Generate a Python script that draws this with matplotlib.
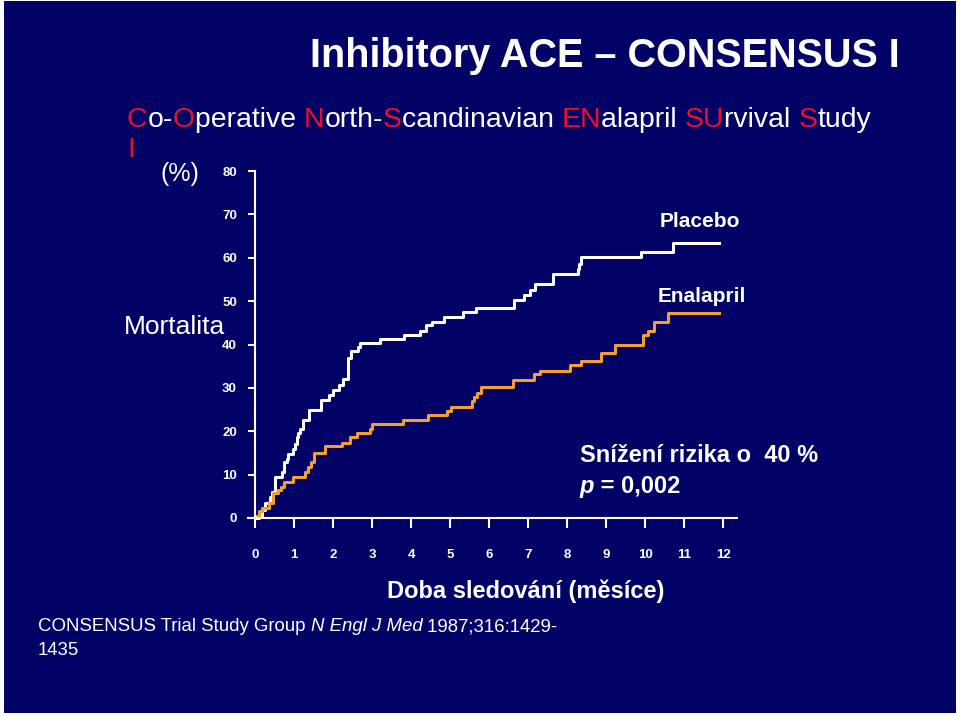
import matplotlib
matplotlib.use("Agg")
import matplotlib.pyplot as plt
from matplotlib.patches import Rectangle

NAVY = "#020266"
ORANGE = "#F2A02E"
RED = "#E8102D"

# step curves: (month, cumulative mortality %)
placebo_months = [0, 0.09, 0.17, 0.26, 0.38, 0.43, 0.51, 0.68, 0.75, 0.81,
                  0.85, 0.98, 1.03, 1.07, 1.11, 1.15, 1.22, 1.39, 1.70, 1.89,
                  2.00, 2.14, 2.25, 2.37, 2.39, 2.47, 2.63, 2.69, 3.19, 3.83,
                  4.24, 4.38, 4.53, 4.83, 5.32, 5.67, 6.64, 6.88, 7.04, 7.17,
                  7.64, 8.27, 8.30, 8.34, 9.89, 10.71, 11.88]
placebo_mort = [0, 0.5, 1.9, 3.4, 4.9, 6.1, 9.5, 10.6, 12.9, 13.6,
                14.8, 15.9, 17.0, 18.6, 19.7, 20.5, 22.7, 25.0, 27.3, 28.4,
                29.5, 30.6, 32.0, 34.7, 37.0, 38.4, 39.4, 40.4, 41.2, 42.1,
                43.2, 44.4, 45.1, 46.3, 47.4, 48.5, 50.2, 51.4, 52.6, 54.0,
                56.2, 57.3, 58.5, 60.2, 61.4, 63.3, 63.3]

enalapril_months = [0, 0.09, 0.17, 0.37, 0.47, 0.60, 0.66, 0.73, 0.98, 1.28,
                    1.37, 1.43, 1.50, 1.80, 2.22, 2.44, 2.61, 2.95, 2.99, 3.80,
                    4.44, 4.91, 5.01, 5.55, 5.60, 5.70, 5.80, 6.60, 7.14, 7.30,
                    8.06, 8.36, 8.87, 9.23, 9.93, 10.08, 10.22, 10.59, 11.90]
enalapril_mort = [0.5, 1.5, 2.3, 3.4, 5.7, 6.4, 7.2, 8.3, 9.5, 10.6,
                  11.7, 12.9, 14.9, 16.7, 17.4, 18.6, 19.5, 20.6, 21.6, 22.6,
                  23.7, 24.6, 25.7, 26.9, 27.9, 28.9, 30.2, 31.8, 33.2, 34.0,
                  35.2, 36.2, 38.1, 40.0, 42.1, 43.2, 45.2, 47.3, 47.3]

x_ticks = list(range(13))
y_ticks = [0, 10, 20, 30, 40, 50, 60, 70, 80]

plt.rcParams['font.family'] = ['Liberation Sans', 'DejaVu Sans']

W, H = 960, 716
fig = plt.figure(figsize=(9.6, 7.16), dpi=100, facecolor='white')
fig.patches.append(Rectangle((4 / W, 3 / H), 952 / W, 712 / H, transform=fig.transFigure,
                             facecolor=NAVY, edgecolor='none', zorder=-10))


def px(x, y):
    return x / W, 1 - y / H


ax = fig.add_axes([248 / W, (H - 518) / H, 489 / W, 347 / H])
ax.set_facecolor('none')
ax.step(placebo_months, placebo_mort, where='post', color='white', lw=2.2, clip_on=False)
ax.step(enalapril_months, enalapril_mort, where='post', color=ORANGE, lw=2.2, clip_on=False)
ax.set_xlim(-0.18, 12.35)
ax.set_ylim(0, 80)
for s in ['top', 'right']:
    ax.spines[s].set_visible(False)
ax.spines['left'].set_position(('data', 0))
for s in ['left', 'bottom']:
    ax.spines[s].set_color('white')
    ax.spines[s].set_linewidth(1.5)
ax.set_xticks(x_ticks)
ax.set_yticks(y_ticks)
ax.tick_params(axis='x', colors='white', direction='out', length=7, width=1.5, pad=15,
               labelsize=9.5)
ax.tick_params(axis='y', colors='white', direction='out', length=5, width=1.5, pad=8,
               labelsize=9.5)
for lab in ax.get_xticklabels() + ax.get_yticklabels():
    lab.set_fontweight('bold')


def rich(x, y, parts, size, weight='normal'):
    # parts: (text, colour, style) placed one after another on one baseline
    t = None
    for s, c, st in parts:
        if t is None:
            t = ax.annotate(s, xy=px(x, y), xycoords='figure fraction', va='baseline',
                            ha='left', color=c, fontsize=size, fontweight=weight,
                            fontstyle=st, annotation_clip=False)
        else:
            t = ax.annotate(s, xy=(1, 0), xycoords=t, va='bottom', ha='left',
                            color=c, fontsize=size, fontweight=weight, fontstyle=st,
                            annotation_clip=False)
    return t


fig.text(*px(605, 67), "Inhibitory ACE \u2013 CONSENSUS I", color='white', fontsize=28.5,
         fontweight='bold', ha='center', va='baseline')

W_, R_ = 'white', RED
rich(127, 127, [("C", R_, 'normal'), ("o-", W_, 'normal'), ("O", R_, 'normal'),
                ("perative ", W_, 'normal'), ("N", R_, 'normal'), ("orth-", W_, 'normal'),
                ("S", R_, 'normal'), ("candinavian ", W_, 'normal'), ("EN", R_, 'normal'),
                ("alapril ", W_, 'normal'), ("SU", R_, 'normal'), ("rvival ", W_, 'normal'),
                ("S", R_, 'normal'), ("tudy", W_, 'normal')], 20.4)
fig.text(*px(127, 157), "I", color=RED, fontsize=20.4, va='baseline')

fig.text(*px(180, 181), "(%)", color='white', fontsize=18, ha='center', va='baseline')
fig.text(*px(175, 334), "Mortalita", color='white', fontsize=19, ha='center', va='baseline')

fig.text(*px(660, 227), "Placebo", color='white', fontsize=15, fontweight='bold', va='baseline')
fig.text(*px(658, 302), "Enalapril", color='white', fontsize=15, fontweight='bold', va='baseline')

fig.text(*px(580, 462), "Sn\u00ed\u017een\u00ed rizika o  40 %", color='white', fontsize=17,
         fontweight='bold', va='baseline')
rich(580, 493, [("p", 'white', 'italic'), (" = 0,002", 'white', 'normal')], 17, 'bold')

fig.text(*px(526, 598), "Doba sledov\u00e1n\u00ed (m\u011bs\u00edce)", color='white', fontsize=17,
         fontweight='bold', ha='center', va='baseline')

rich(38, 631, [("CONSENSUS Trial Study Group ", 'white', 'normal'),
               ("N Engl J Med", 'white', 'italic'),
               (" 1987;316:1429-", 'white', 'normal')], 13.4)
fig.text(*px(38, 655), "1435", color='white', fontsize=13.4, va='baseline')

fig.savefig("out.png", dpi=100, facecolor=fig.get_facecolor())
